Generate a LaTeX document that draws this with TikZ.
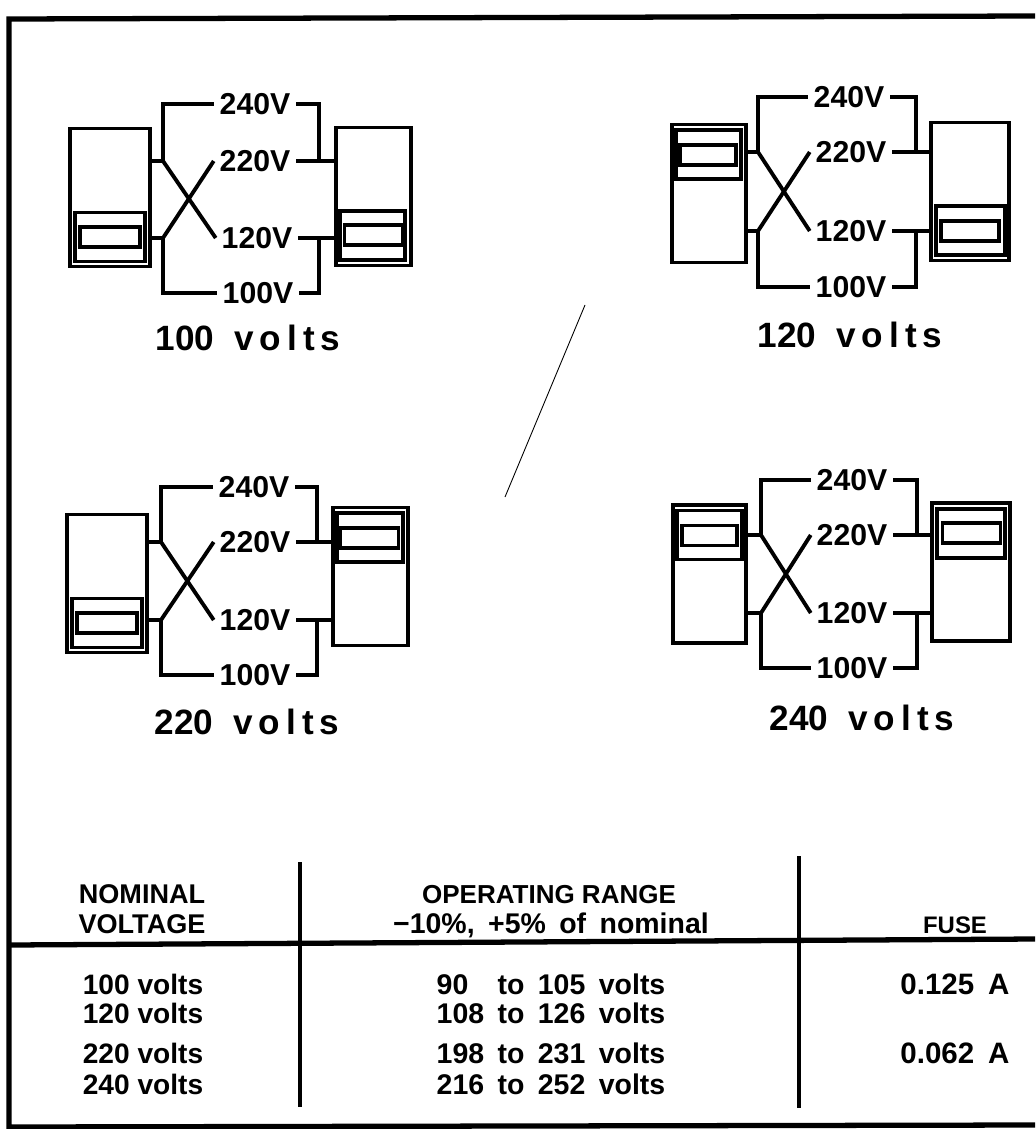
\documentclass[tikz,border=0pt]{standalone}
\usepackage{fontspec}
\setmainfont{Liberation Sans}
\newfontfamily\spacedfont[LetterSpace=17]{Liberation Sans}
\newfontfamily\rangefont[WordSpace=1.15]{Liberation Sans}
\newfontfamily\fusefont[WordSpace=1.7]{Liberation Sans}
\usetikzlibrary{shapes,arrows}
\tikzset{
	meter/.style    = {draw, line width = 1.1pt, rectangle, minimum height = 1.38cm,
		inner sep = 0pt, outer sep = 0pt},
	panel/.style    = {draw, line width = 0.9pt, rectangle, minimum height = 0.49cm,
		minimum width = 0.67cm, inner sep = 0pt, outer sep = 0pt},
	window/.style   = {draw, line width = 1.1pt, rectangle, minimum height = 0.2cm,
		minimum width = 0.58cm, inner sep = 0pt, outer sep = 0pt},
	tap/.style      = {font = \fontsize{8.6}{10}\selectfont\bfseries, inner sep = 1.7pt, outer sep = 0pt},
	caption/.style  = {font = \fontsize{10}{12}\selectfont\bfseries, inner sep = 0pt},
	cell/.style     = {font = \fontsize{7.7}{9}\selectfont\bfseries, inner sep = 0pt,
		text height = 5.5pt, text depth = 0pt},
	rowcell/.style  = {cell, font = \fontsize{8}{9}\selectfont\bfseries},
	rangecell/.style = {cell, font = \rangefont\fontsize{8.1}{9}\selectfont\bfseries},
	fusecell/.style = {cell, font = \fusefont\fontsize{8.4}{9}\selectfont\bfseries},
	wire/.style     = {line width = 1.1pt},
	rule/.style     = {line width = 1.3pt}
}
\newcommand{\volts}{\hspace{0.2cm}{\spacedfont\bfseries volts}}

\begin{document}
\begin{tikzpicture}
	\useasboundingbox (0,0) rectangle (10.35,-11.29);

	% Drawing the frame and the table rules
	\coordinate (tl) at (0.09,-0.19);
	\coordinate (tr) at (10.35,-0.16);
	\coordinate (bl) at (0.09,-11.27);
	\coordinate (br) at (10.35,-11.25);
	\coordinate (hl) at (0.09,-9.45);
	\coordinate (hr) at (10.35,-9.39);
	\coordinate (va) at (3.00,-8.62);
	\coordinate (vb) at (3.00,-11.07);
	\coordinate (vc) at (7.99,-8.56);
	\coordinate (vd) at (7.99,-11.08);
	\coordinate (sa) at (5.85,-3.05);
	\coordinate (sb) at (5.05,-4.97);
	\draw[rule, line width = 1.5pt] (tr) -- (tl) -- (bl) -- (br);
	\draw[rule, line width = 1.5pt] (hl) -- (hr);
	\draw[rule] (va) -- (vb);
	\draw[rule] (vc) -- (vd);
	\draw[line width = 0.25pt] (sa) -- (sb);

	% Drawing the first selector, 100 volts
	\draw
	node at (1.10,-1.975)[meter, minimum width = 0.80cm] (ma) {}
	node at (1.10,-2.37)[panel, minimum width = 0.70cm] (pa) {}
	node at (1.10,-2.37)[window, minimum width = 0.60cm] (wa) {}
	node at (3.735,-1.965)[meter, minimum width = 0.75cm] (na) {}
	node at (3.725,-2.355)[panel, minimum width = 0.65cm] (qa) {}
	node at (3.735,-2.35)[window] (xa) {}
	node at (2.55,-1.04)[tap] (a240) {240V}
	node at (2.55,-1.61)[tap] (a220) {220V}
	node at (2.57,-2.38)[tap] (a120) {120V}
	node at (2.58,-2.93)[tap] (a100) {100V}
	node at (2.48,-3.38)[caption] (ca) {100\volts};
	\coordinate (ja) at (1.63,-1.61);
	\coordinate (jb) at (1.63,-2.38);
	\coordinate (jc) at (3.19,-1.61);
	\coordinate (jd) at (3.19,-2.38);
	\draw[wire] (ma.east |- ja) -- (ja);
	\draw[wire] (ma.east |- jb) -- (jb);
	\draw[wire] (ja) |- (a240.west);
	\draw[wire] (jb) |- (a100.west);
	\draw[wire] (ja) -- (a120.west);
	\draw[wire] (jb) -- (a220.west);
	\draw[wire] (a220.east) -- (na.west |- a220);
	\draw[wire] (a120.east) -- (na.west |- a120);
	\draw[wire] (a240.east) -| (jc);
	\draw[wire] (a100.east) -| (jd);

	% Drawing the second selector, 120 volts
	\draw
	node at (7.09,-1.935)[meter, minimum width = 0.74cm] (mb) {}
	node at (7.085,-1.545)[panel, minimum width = 0.65cm] (pb) {}
	node at (7.08,-1.55)[window, minimum width = 0.56cm] (wb) {}
	node at (9.70,-1.915)[meter, minimum width = 0.78cm] (nb) {}
	node at (9.705,-2.305)[panel, minimum width = 0.69cm] (qb) {}
	node at (9.70,-2.31)[window] (xb) {}
	node at (8.49,-0.97)[tap] (b240) {240V}
	node at (8.51,-1.52)[tap] (b220) {220V}
	node at (8.51,-2.31)[tap] (b120) {120V}
	node at (8.51,-2.87)[tap] (b100) {100V}
	node at (8.50,-3.35)[caption] (cb) {120\volts};
	\coordinate (ka) at (7.58,-1.52);
	\coordinate (kb) at (7.58,-2.31);
	\coordinate (kc) at (9.16,-1.52);
	\coordinate (kd) at (9.16,-2.31);
	\draw[wire] (mb.east |- ka) -- (ka);
	\draw[wire] (mb.east |- kb) -- (kb);
	\draw[wire] (ka) |- (b240.west);
	\draw[wire] (kb) |- (b100.west);
	\draw[wire] (ka) -- (b120.west);
	\draw[wire] (kb) -- (b220.west);
	\draw[wire] (b220.east) -- (nb.west |- b220);
	\draw[wire] (b120.east) -- (nb.west |- b120);
	\draw[wire] (b240.east) -| (kc);
	\draw[wire] (b100.east) -| (kd);

	% Drawing the third selector, 220 volts
	\draw
	node at (1.07,-5.835)[meter, minimum width = 0.80cm] (mc) {}
	node at (1.07,-6.23)[panel, minimum width = 0.70cm] (pc) {}
	node at (1.07,-6.23)[window, minimum width = 0.60cm] (wc) {}
	node at (3.705,-5.765)[meter, minimum width = 0.75cm] (nc) {}
	node at (3.70,-5.375)[panel, minimum width = 0.66cm] (qc) {}
	node at (3.695,-5.38)[window] (xc) {}
	node at (2.54,-4.87)[tap] (c240) {240V}
	node at (2.55,-5.42)[tap] (c220) {220V}
	node at (2.55,-6.20)[tap] (c120) {120V}
	node at (2.55,-6.75)[tap] (c100) {100V}
	node at (2.47,-7.22)[caption] (cc) {220\volts};
	\coordinate (la) at (1.61,-5.42);
	\coordinate (lb) at (1.61,-6.20);
	\coordinate (lc) at (3.17,-5.42);
	\coordinate (ld) at (3.17,-6.20);
	\draw[wire] (mc.east |- la) -- (la);
	\draw[wire] (mc.east |- lb) -- (lb);
	\draw[wire] (la) |- (c240.west);
	\draw[wire] (lb) |- (c100.west);
	\draw[wire] (la) -- (c120.west);
	\draw[wire] (lb) -- (c220.west);
	\draw[wire] (c220.east) -- (nc.west |- c220);
	\draw[wire] (c120.east) -- (nc.west |- c120);
	\draw[wire] (c240.east) -| (lc);
	\draw[wire] (c100.east) -| (ld);

	% Drawing the fourth selector, 240 volts
	\draw
	node at (7.095,-5.74)[meter, minimum width = 0.73cm] (md) {}
	node at (7.095,-5.35)[panel, minimum width = 0.65cm] (pd) {}
	node at (7.095,-5.355)[window, minimum width = 0.55cm] (wd) {}
	node at (9.71,-5.72)[meter, minimum width = 0.78cm] (nd) {}
	node at (9.71,-5.335)[panel, minimum width = 0.68cm] (qd) {}
	node at (9.715,-5.33)[window] (xd) {}
	node at (8.52,-4.80)[tap] (d240) {240V}
	node at (8.52,-5.35)[tap] (d220) {220V}
	node at (8.52,-6.13)[tap] (d120) {120V}
	node at (8.52,-6.68)[tap] (d100) {100V}
	node at (8.62,-7.18)[caption] (cd) {240\volts};
	\coordinate (ra) at (7.61,-5.35);
	\coordinate (rb) at (7.61,-6.13);
	\coordinate (rc) at (9.17,-5.35);
	\coordinate (rd) at (9.17,-6.13);
	\draw[wire] (md.east |- ra) -- (ra);
	\draw[wire] (md.east |- rb) -- (rb);
	\draw[wire] (ra) |- (d240.west);
	\draw[wire] (rb) |- (d100.west);
	\draw[wire] (ra) -- (d120.west);
	\draw[wire] (rb) -- (d220.west);
	\draw[wire] (d220.east) -- (nd.west |- d220);
	\draw[wire] (d120.east) -- (nd.west |- d120);
	\draw[wire] (d240.east) -| (rc);
	\draw[wire] (d100.east) -| (rd);

	% Drawing the table
	\draw
	node at (1.42,-8.94)[cell] (th1) {NOMINAL}
	node at (1.42,-9.24)[cell] (th2) {VOLTAGE}
	node at (5.49,-8.94)[cell, font = \fontsize{7.4}{9}\selectfont\bfseries] (th3) {OPERATING RANGE}
	node at (5.51,-9.24)[rangecell] (th4) {−10\%, +5\% of nominal}
	node at (9.55,-9.24)[cell, font = \fontsize{6.8}{9}\selectfont\bfseries] (th5) {FUSE}
	node at (1.43,-9.85)[rowcell] (r1a) {100 volts}
	node at (1.43,-10.14)[rowcell] (r2a) {120 volts}
	node at (1.43,-10.54)[rowcell] (r3a) {220 volts}
	node at (1.43,-10.85)[rowcell] (r4a) {240 volts}
	node at (5.51,-9.85)[rangecell] (r1b) {90\phantom{0} to 105 volts}
	node at (5.51,-10.14)[rangecell] (r2b) {108 to 126 volts}
	node at (5.51,-10.54)[rangecell] (r3b) {198 to 231 volts}
	node at (5.51,-10.85)[rangecell] (r4b) {216 to 252 volts}
	node at (9.55,-9.85)[fusecell] (r1c) {0.125 A}
	node at (9.55,-10.54)[fusecell] (r3c) {0.062 A};
\end{tikzpicture}
\end{document}
